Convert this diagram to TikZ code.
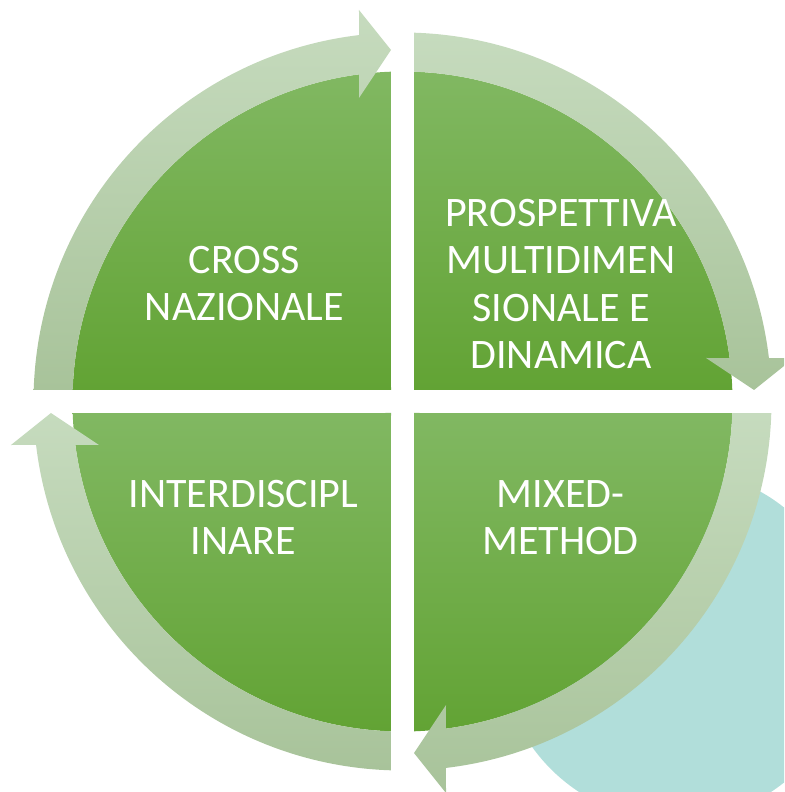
\documentclass[tikz,border=0pt]{standalone}
\usepackage{fontspec}
\setmainfont{Carlito}
\definecolor{gtop}{HTML}{81B862}
\definecolor{gbot}{HTML}{62A334}
\definecolor{rtop}{HTML}{C6DBBE}
\definecolor{rbot}{HTML}{A8C39A}
\definecolor{teal}{HTML}{B1DEDA}
\tikzset{
  quad/.style={top color=gtop, bottom color=gbot, draw=none},
  ringseg/.style={top color=rtop, bottom color=rbot, draw=none},
  lbl/.style={text=white, align=center, inner sep=0pt,
    font=\fontsize{42}{47.3}\selectfont}
}
\begin{document}
\begin{tikzpicture}[x=1pt,y=1pt]
\useasboundingbox (-402.5,-390.5) rectangle (381.5,401.5);
\clip (-402.5,-390.5) rectangle (381.5,401.5);
% teal background circle
\fill[teal] (272.5,-243.5) circle[radius=175.5];
% green quadrants
\shade[quad] (11.5,11.5) -- (88.0:330) arc[start angle=88.0,end angle=2.0,radius=330] -- cycle;
\shade[quad] (-11.5,11.5) -- (92.0:330) arc[start angle=92.0,end angle=178.0,radius=330] -- cycle;
\shade[quad] (-11.5,-11.5) -- (182.0:330) arc[start angle=182.0,end angle=268.0,radius=330] -- cycle;
\shade[quad] (11.5,-11.5) -- (272.0:330) arc[start angle=272.0,end angle=358.0,radius=330] -- cycle;
% ring segments with arrowheads
% top-left (left -> top)
\shade[ringseg] (178.21:369) arc[start angle=178.21,end angle=96.77,radius=369]
  -- (-43.5,391.5) -- (-11.5,351.5) -- (-43.5,303.5)
  -- (97.57:330) arc[start angle=97.57,end angle=178.0,radius=330] -- cycle;
% top-right (top -> right)
\shade[ringseg] (88.21:369) arc[start angle=88.21,end angle=6.77,radius=369]
  -- (391.5,43.5) -- (351.5,11.5) -- (303.5,43.5)
  -- (7.57:330) arc[start angle=7.57,end angle=88.0,radius=330] -- cycle;
% bottom-right (right -> bottom)
\shade[ringseg] (-1.79:369) arc[start angle=-1.79,end angle=-83.23,radius=369]
  -- (43.5,-391.5) -- (11.5,-351.5) -- (43.5,-303.5)
  -- (-82.43:330) arc[start angle=-82.43,end angle=-2.0,radius=330] -- cycle;
% bottom-left (bottom -> left)
\shade[ringseg] (268.21:369) arc[start angle=268.21,end angle=186.77,radius=369]
  -- (-391.5,-43.5) -- (-351.5,-11.5) -- (-303.5,-43.5)
  -- (187.57:330) arc[start angle=187.57,end angle=268.0,radius=330] -- cycle;
% labels
\node[lbl] (tl) at (-158,118) {CROSS\\NAZIONALE};
\node[lbl] (tr) at (158.5,117.5) {PROSPETTIVA\\MULTIDIMEN\\SIONALE E\\DINAMICA};
\node[lbl] (bl) at (-159,-116) {INTERDISCIPL\\INARE};
\node[lbl] (br) at (158,-116) {MIXED-\\METHOD};
\end{tikzpicture}
\end{document}
